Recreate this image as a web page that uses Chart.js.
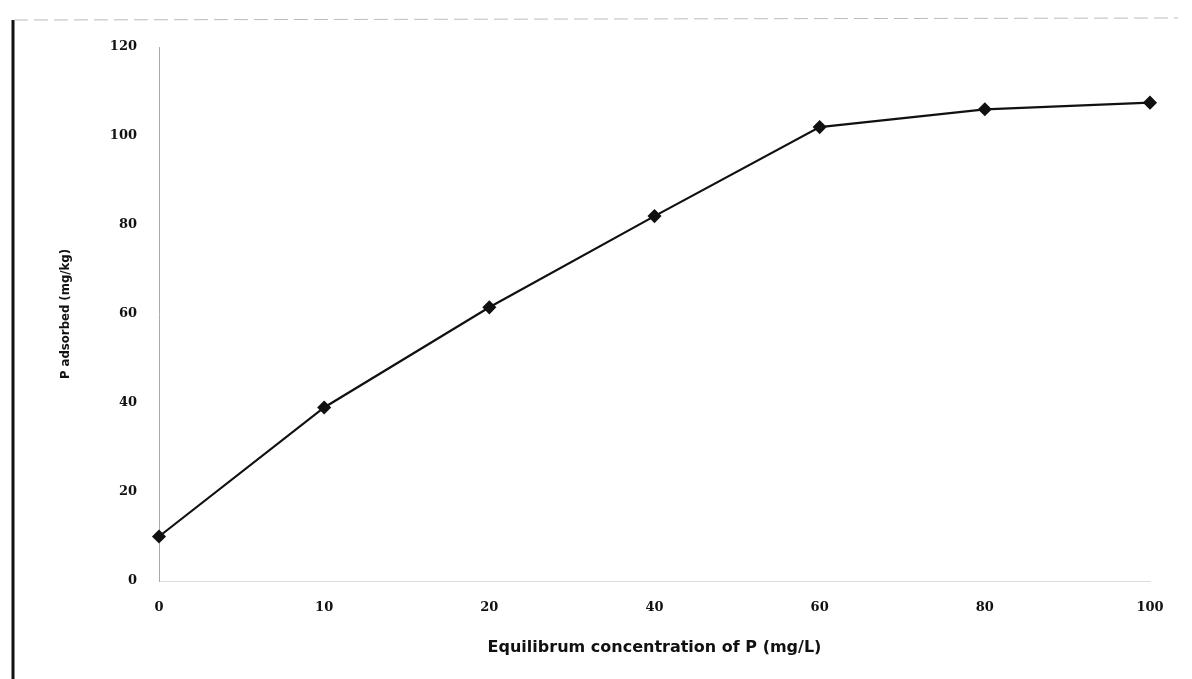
<!DOCTYPE html>
<html>
<head>
<meta charset="utf-8">
<script src="https://cdn.jsdelivr.net/npm/chart.js@4"></script>
<style>
  html, body { margin: 0; padding: 0; background: #fff; }
  #wrap { width: 1192px; height: 679px; position: relative; }
</style>
</head>
<body>
<div id="wrap"><canvas id="myChart" width="1192" height="679"></canvas></div>
<script>
const concLabels = ["0", "10", "20", "40", "60", "80", "100"];
const adsorbed = [10, 39, 61.5, 82, 102, 106, 107.5];
const yTicks = [0, 20, 40, 60, 80, 100, 120];

// page frame: thick left rule + faint dashed top rule
const frame = {
  id: "frame",
  beforeDraw(c) {
    const ctx = c.ctx;
    ctx.save();
    ctx.strokeStyle = "#111";
    ctx.lineWidth = 3;
    ctx.beginPath();
    ctx.moveTo(13, 20);
    ctx.lineTo(13, 679);
    ctx.stroke();
    ctx.strokeStyle = "#bbb";
    ctx.lineWidth = 1;
    ctx.setLineDash([14, 6]);
    ctx.beginPath();
    ctx.moveTo(14, 20);
    ctx.lineTo(1178, 18);
    ctx.stroke();
    ctx.restore();
  },
};

const tickFont = { family: "DejaVu Serif", size: 13, weight: "bold" };

const chart = new Chart(document.getElementById("myChart"), {
  type: "line",
  plugins: [frame],
  data: {
    labels: concLabels,
    datasets: [
      {
        label: "P adsorbed",
        data: adsorbed,
        borderColor: "#111",
        backgroundColor: "#111",
        borderWidth: 2.2,
        pointStyle: "rectRot",
        pointRadius: 5.5,
        pointHoverRadius: 5.5,
        tension: 0,
      },
    ],
  },
  options: {
    responsive: false,
    animation: false,
    layout: { padding: { left: 54, right: 42, top: 47, bottom: 18 } },
    plugins: {
      legend: { display: false },
      tooltip: { enabled: false },
    },
    scales: {
      x: {
        offset: false,
        afterFit: (s) => { s.height = 80; },
        grid: { display: false, drawTicks: false },
        border: { color: "#ddd", dash: [30, 12], width: 1 },
        ticks: { color: "#111", font: tickFont, padding: 19, maxRotation: 0 },
        title: {
          display: true,
          text: "Equilibrum concentration of P (mg/L)",
          color: "#111",
          font: { family: "DejaVu Sans", size: 16, weight: "bold" },
          padding: { top: 12 },
        },
      },
      y: {
        min: 0,
        max: 120,
        afterFit: (s) => { s.width = 105; },
        afterBuildTicks: (s) => { s.ticks = yTicks.map((v) => ({ value: v })); },
        grid: { display: false, drawTicks: false },
        border: { color: "#aaa", dash: [8, 6], width: 1 },
        ticks: { color: "#111", font: tickFont, padding: 22 },
        title: {
          display: true,
          text: "P adsorbed (mg/kg)",
          color: "#111",
          font: { family: "DejaVu Sans Condensed", size: 13, weight: "bold" },
        },
      },
    },
  },
});
</script>
</body>
</html>
